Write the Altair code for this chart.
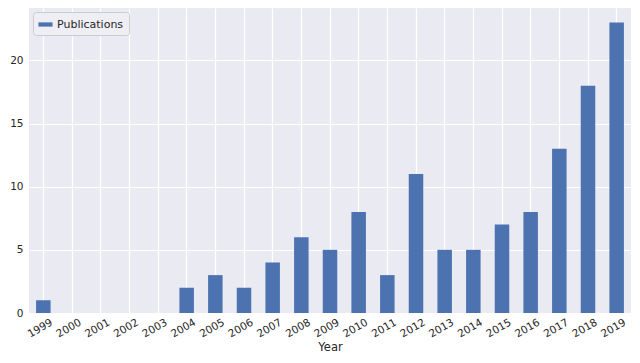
import altair as alt
import pandas as pd

years = [str(y) for y in range(1999, 2020)]
publications = [1, 0, 0, 0, 0, 2, 3, 2, 4, 6, 5, 8, 3, 11, 5, 5, 7, 8, 13, 18, 23]
series = ["Publications"] * len(years)

df = pd.DataFrame({"Year": years, "Publications": publications, "series": series})

bars = alt.Chart(df).mark_bar(size=14.5).encode(
    x=alt.X("Year:N", sort=years,
            scale=alt.Scale(paddingInner=0, paddingOuter=0),
            axis=alt.Axis(title="Year", labelAngle=330, labelAlign="right",
                          labelBaseline="top", bandPosition=0.5, grid=True,
                          ticks=False, domain=False, labelPadding=4,
                          titlePadding=2, labelOffset=6)),
    y=alt.Y("Publications:Q", scale=alt.Scale(domain=[0, 24.15], nice=False),
            axis=alt.Axis(title=None, values=[0, 5, 10, 15, 20], grid=True,
                          ticks=False, domain=False, labelPadding=6)),
    color=alt.Color("series:N", scale=alt.Scale(range=["#4C72B0"]),
                    legend=alt.Legend(title=None, orient="top-left",
                                      symbolType="M-1,-0.3L1,-0.3L1,0.3L-1,0.3Z",
                                      symbolSize=200, symbolStrokeWidth=0,
                                      fillColor="#EEEEF4", strokeColor="#CCCCCC",
                                      cornerRadius=3, padding=5, offset=4,
                                      labelFontSize=11, labelColor="#262626")),
)

chart = bars.properties(
    width=602, height=305,
    autosize=alt.AutoSizeParams(type="none"),
    padding={"left": 21, "top": 0, "right": 1, "bottom": 42},
).configure_view(
    fill="#EAEAF2", stroke=None
).configure_axis(
    gridColor="#FFFFFF", gridWidth=1.2, labelColor="#262626",
    labelFont="DejaVu Sans", labelFontSize=10.5,
    titleFont="DejaVu Sans", titleFontSize=11.5, titleColor="#262626",
    titleFontWeight="normal"
).configure_legend(
    labelFont="DejaVu Sans"
)

chart.save("out.html", embed_options={"renderer": "svg", "actions": False})
